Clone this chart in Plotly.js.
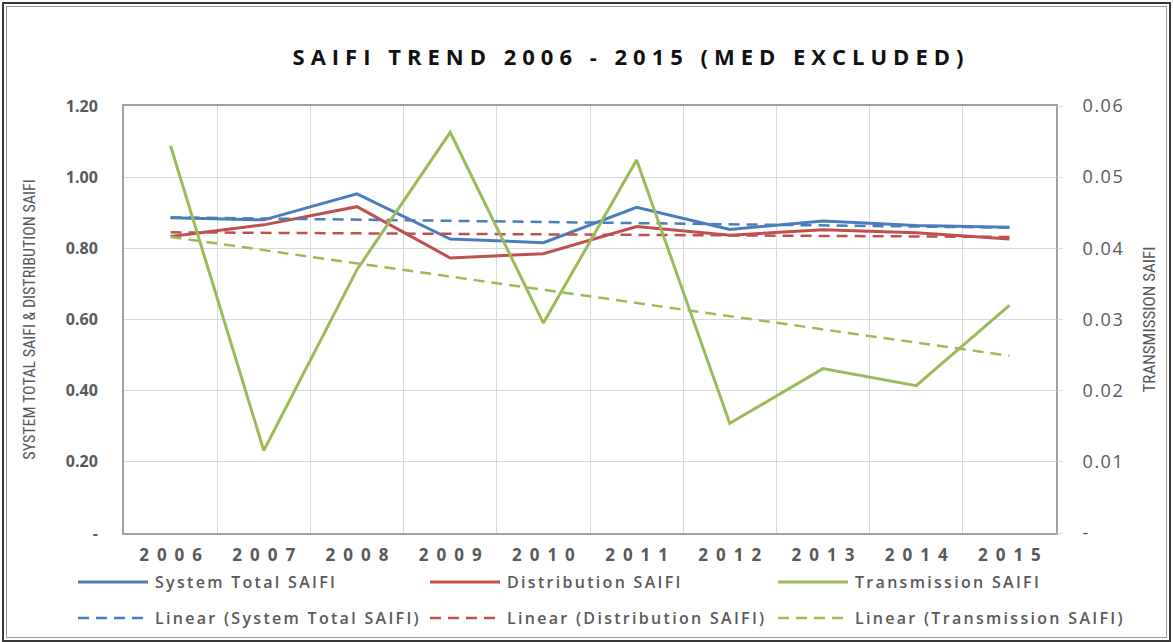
<!DOCTYPE html>
<html>
<head>
<meta charset="utf-8">
<script src="https://cdn.plot.ly/plotly-3.0.1.min.js"></script>
<style>
  html, body { margin: 0; padding: 0; background: #fff; }
  #wrap { position: relative; width: 1173px; height: 642px; overflow: hidden; }
  #chart { position: absolute; left: 0; top: 0; width: 1173px; height: 642px; }
  #frame { position: absolute; left: 2px; top: 2px; width: 1165px; height: 636px;
           border: 2px solid #3a3a3a; box-shadow: inset 0 0 0 2px #fff, inset 0 0 0 3px #9a9a9a;
           pointer-events: none; }
  .gtitle { letter-spacing: 6px; }
  .xtick text { letter-spacing: 8px; }
  .y2tick text { letter-spacing: 1.5px; }
  text.legendtext { letter-spacing: 2.3px !important; }
</style>
</head>
<body>
<div id="wrap">
  <div id="chart"></div>
  <div id="frame"></div>
</div>
<script>
// ---- data ----
const years = ['2006','2007','2008','2009','2010','2011','2012','2013','2014','2015'];
const systemTotal  = [0.886, 0.880, 0.953, 0.826, 0.816, 0.915, 0.853, 0.877, 0.864, 0.859];
const distribution = [0.833, 0.866, 0.917, 0.773, 0.785, 0.861, 0.837, 0.852, 0.844, 0.826];
const transmission = [0.0544, 0.0116, 0.0370, 0.0563, 0.0295, 0.0524, 0.0154, 0.0231, 0.0207, 0.0320];

// linear trend lines (endpoints)
const trendYears = ['2006', '2015'];
const trendSystem = [0.887, 0.858];
const trendDistribution = [0.845, 0.832];
const trendTransmission = [0.0416, 0.0249];

const leftTickVals = [0, 0.2, 0.4, 0.6, 0.8, 1.0, 1.2];
const leftTickText = ['-', '0.20', '0.40', '0.60', '0.80', '1.00', '1.20'];
const rightTickVals = [0, 0.01, 0.02, 0.03, 0.04, 0.05, 0.06];
const rightTickText = ['-', '0.01', '0.02', '0.03', '0.04', '0.05', '0.06'];

const names = ['System Total SAIFI', 'Distribution SAIFI', 'Transmission SAIFI'];
const trendNames = ['Linear (System Total SAIFI)', 'Linear (Distribution SAIFI)', 'Linear (Transmission SAIFI)'];
const colors = ['#4a7ebb', '#c0504d', '#9bbb59'];

const dashPat = '11px,7px';

// each legend entry lives in its own one-item legend so the 3x2 grid can be placed exactly
const traces = [
  {x: years, y: systemTotal, name: names[0], type: 'scatter', mode: 'lines',
   line: {color: colors[0], width: 3}, legend: 'legend', yaxis: 'y'},
  {x: years, y: distribution, name: names[1], type: 'scatter', mode: 'lines',
   line: {color: colors[1], width: 3}, legend: 'legend2', yaxis: 'y'},
  {x: trendYears, y: trendSystem, name: trendNames[0], type: 'scatter', mode: 'lines',
   line: {color: colors[0], width: 2.5, dash: dashPat}, legend: 'legend4', yaxis: 'y'},
  {x: trendYears, y: trendDistribution, name: trendNames[1], type: 'scatter', mode: 'lines',
   line: {color: colors[1], width: 2.5, dash: dashPat}, legend: 'legend5', yaxis: 'y'},
  {x: years, y: transmission, name: names[2], type: 'scatter', mode: 'lines',
   line: {color: colors[2], width: 3}, legend: 'legend3', yaxis: 'y2'},
  {x: trendYears, y: trendTransmission, name: trendNames[2], type: 'scatter', mode: 'lines',
   line: {color: colors[2], width: 2.5, dash: dashPat}, legend: 'legend6', yaxis: 'y2'}
];

const legFont = {family: 'Open Sans, sans-serif', size: 16, color: '#595959', weight: 600};
const ITEMW = 72;
const W = 1173, H = 642;
const legendColsPx = [73, 425, 773];
const legendRowsPx = [582, 618];

function legendAt(px, py) {
  return {
    orientation: 'h', xref: 'container', yref: 'container',
    x: px / W, xanchor: 'left', y: 1 - py / H, yanchor: 'middle',
    itemwidth: ITEMW,
    font: legFont, bgcolor: 'rgba(0,0,0,0)', traceorder: 'normal'
  };
}

const layout = {
  width: W, height: H,
  margin: {l: 124, r: 117, t: 106, b: 109},
  paper_bgcolor: 'rgba(0,0,0,0)',
  plot_bgcolor: '#ffffff',
  showlegend: true,
  title: {
    text: 'SAIFI TREND 2006 - 2015 (MED EXCLUDED)',
    font: {family: 'Open Sans, sans-serif', size: 22, color: '#111111', weight: 700},
    xref: 'container', yref: 'container',
    x: 631 / W, xanchor: 'center', y: 1 - 57 / H, yanchor: 'middle'
  },
  xaxis: {
    type: 'category', categoryorder: 'array', categoryarray: years,
    range: [-0.5, 9.5],
    tickson: 'boundaries', ticks: '',
    showgrid: true, gridcolor: '#d9d9d9', gridwidth: 1,
    showline: true, mirror: true, linecolor: '#a0a0a0', linewidth: 2,
    tickfont: {family: 'Open Sans, sans-serif', size: 17, color: '#595959', weight: 700},
    ticklabelstandoff: 6,
    fixedrange: true
  },
  yaxis: {
    range: [0, 1.2],
    tickvals: leftTickVals, ticktext: leftTickText,
    showgrid: true, gridcolor: '#d9d9d9', gridwidth: 1, zeroline: false,
    showline: true, mirror: true, linecolor: '#a0a0a0', linewidth: 2,
    ticks: '',
    tickfont: {family: 'Open Sans, sans-serif', size: 16, color: '#595959', weight: 700},
    ticklabelstandoff: 21,
    title: {
      text: 'SYSTEM TOTAL SAIFI & DISTRIBUTION SAIFI',
      font: {family: 'Liberation Sans Narrow, Roboto Condensed, Roboto, sans-serif', size: 16, color: '#595959'},
      standoff: 26
    },
    fixedrange: true
  },
  yaxis2: {
    range: [0, 0.06], overlaying: 'y', side: 'right',
    tickvals: rightTickVals, ticktext: rightTickText,
    showgrid: false, zeroline: false, showline: false,
    ticks: 'outside', ticklen: 6, tickcolor: '#d9d9d9', tickwidth: 1,
    tickfont: {family: 'Open Sans, sans-serif', size: 18, color: '#595959'},
    ticklabelstandoff: 16,
    title: {
      text: 'TRANSMISSION SAIFI',
      font: {family: 'Liberation Sans Narrow, Roboto Condensed, Roboto, sans-serif', size: 17, color: '#595959'},
      standoff: 19
    },
    fixedrange: true
  },
  legend:  legendAt(legendColsPx[0], legendRowsPx[0]),
  legend2: legendAt(legendColsPx[1], legendRowsPx[0]),
  legend3: legendAt(legendColsPx[2], legendRowsPx[0]),
  legend4: legendAt(legendColsPx[0], legendRowsPx[1]),
  legend5: legendAt(legendColsPx[1], legendRowsPx[1]),
  legend6: legendAt(legendColsPx[2], legendRowsPx[1])
};

const legendLabels = names.concat(trendNames);

function patch() {
  // lengthen the legend line samples to match the reference
  document.querySelectorAll('.legendlines path').forEach(function (p) {
    p.setAttribute('d', 'M5,0h' + (ITEMW - 2));
  });
  // widen the legend lettering like the reference (match every legend label text node)
  document.querySelectorAll('svg text').forEach(function (t) {
    if (legendLabels.indexOf(t.textContent.trim()) >= 0) {
      t.style.setProperty('letter-spacing', '2.3px', 'important');
      t.setAttribute('letter-spacing', '2.3');
    }
  });
  // the wider lettering must not be cut by the legend clip boxes
  document.querySelectorAll('.scrollbox').forEach(function (g) {
    g.removeAttribute('clip-path');
  });
  document.querySelectorAll('clipPath').forEach(function (c) {
    if (/legend/i.test(c.id)) {
      c.querySelectorAll('rect').forEach(function (r) { r.setAttribute('width', '600'); });
    }
  });
  // compensate the trailing letter-spacing so the year labels stay centred
  document.querySelectorAll('.xtick text').forEach(function (t) {
    t.setAttribute('dx', '4');
  });
}

Plotly.newPlot('chart', traces, layout, {displayModeBar: false, staticPlot: true}).then(function () {
  patch();
  document.getElementById('chart').on('plotly_afterplot', patch);
  setTimeout(patch, 30);
  setTimeout(patch, 200);
});
</script>
</body>
</html>
